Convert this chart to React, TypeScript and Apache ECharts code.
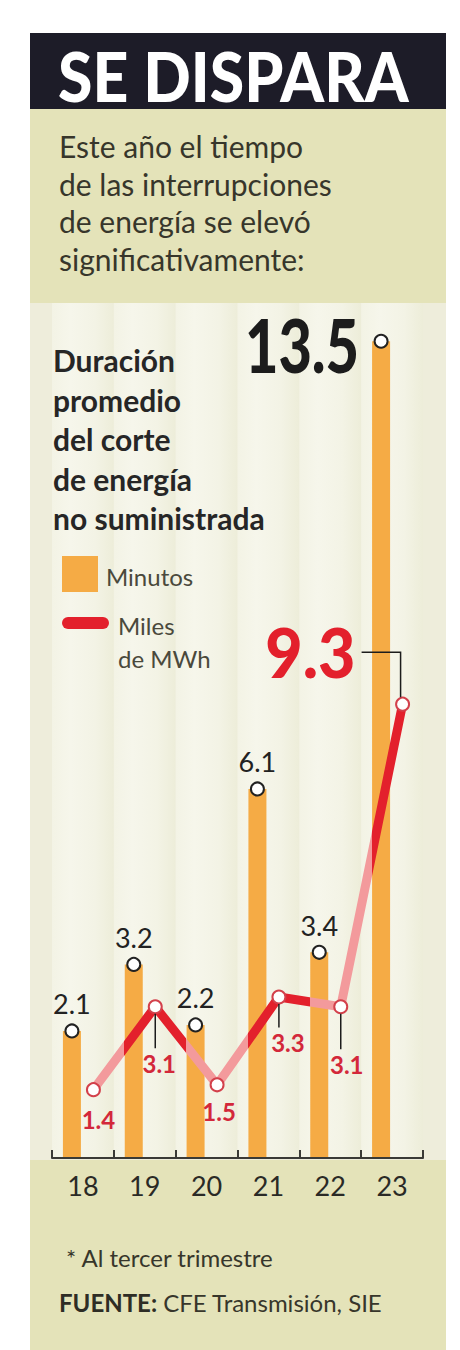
import React, { useEffect, useRef } from "react";
import * as echarts from "echarts";

// ---- data ----
const years = ["18", "19", "20", "21", "22", "23"];
const minutos = [2.1, 3.2, 2.2, 6.1, 3.4, 13.5];
const milesMWh = [1.4, 3.1, 1.5, 3.3, 3.1, 9.3];

const title = "SE DISPARA";
const subtitleLines = [
  "Este año el tiempo",
  "de las interrupciones",
  "de energía se elevó",
  "significativamente:",
];
const chartTitleLines = [
  "Duración",
  "promedio",
  "del corte",
  "de energía",
  "no suministrada",
];
const legendBar = "Minutos";
const legendLine = ["Miles", "de MWh"];
const footnote = "* Al tercer trimestre";
const sourceLabel = "FUENTE:";
const sourceText = " CFE Transmisión, SIE";

// ---- layout / style (not data) ----
const W = 460;
const H = 1350;
const AXIS_Y = 1158;
const AX_L = 52;
const AX_R = 37;
const BAR_SHIFT = 11;
const LINE_SHIFT = 10.5;
const BAR_MAX = 14;
const BAR_PX = 60.5;
const LINE_MAX = 16;
const LINE_PX = 48.8;
const lineLabelDist = [10, 37, 7, 26, 38, 0];
const lineLabelDx = [5, 4, 2, 9, 6, 0];
const lineLeader = [false, true, false, true, true, false];

const ORANGE = "#f5ab45";
const RED = "#e3202c";
const PINK = "#f39a9c";
const BEIGE = "#e4e3b9";
const FONT = "Lato, 'Open Sans', sans-serif";

export default function App() {
  const ref = useRef<HTMLDivElement>(null);

  useEffect(() => {
    document.body.style.margin = "0";
    if (!ref.current) return;
    const chart = echarts.init(ref.current, undefined, { renderer: "svg" });

    const bandW = (W - AX_L - AX_R) / years.length;
    const last = years.length - 1;

    const bg: any[] = [];
    bg.push({ type: "rect", z: -20, shape: { x: 30, y: 33, width: 416, height: 76 }, style: { fill: "#1d1c28" } });
    bg.push({ type: "rect", z: -20, shape: { x: 30, y: 109, width: 416, height: 194 }, style: { fill: BEIGE } });
    bg.push({ type: "rect", z: -20, shape: { x: 30, y: 303, width: 416, height: AXIS_Y - 303 + 2 }, style: { fill: "#eeeddb" } });
    years.forEach((_, i) => {
      bg.push({
        type: "rect",
        z: -19,
        shape: { x: AX_L + i * bandW, y: 303, width: bandW, height: AXIS_Y - 303 },
        style: {
          fill: new echarts.graphic.LinearGradient(0, 0, 1, 0, [
            { offset: 0, color: "#f3f3e5" },
            { offset: 0.3, color: "#f6f6eb" },
            { offset: 0.7, color: "#f3f3e5" },
            { offset: 1, color: "#ededd9" },
          ]),
        },
      });
    });
    bg.push({ type: "rect", z: -20, shape: { x: 30, y: AXIS_Y + 2, width: 416, height: H - AXIS_Y - 2 }, style: { fill: BEIGE } });

    const texts: any[] = [];
    texts.push({
      type: "text", z: 50, x: 58, y: 76, scaleX: 0.92,
      style: { text: title, fill: "#ffffff", font: `900 68px ${FONT}`, verticalAlign: "middle" },
    });
    subtitleLines.forEach((t, i) => {
      texts.push({
        type: "text", z: 50, x: 59, y: 146 + i * 37.5,
        style: { text: t, fill: "#37362b", font: `400 30px ${FONT}`, verticalAlign: "middle" },
      });
    });
    chartTitleLines.forEach((t, i) => {
      texts.push({
        type: "text", z: 50, x: 53, y: 360 + i * 39.5,
        style: { text: t, fill: "#262626", font: `700 30px ${FONT}`, verticalAlign: "middle" },
      });
    });
    texts.push({ type: "rect", z: 50, shape: { x: 62, y: 556, width: 36, height: 36 }, style: { fill: ORANGE } });
    texts.push({
      type: "text", z: 50, x: 106, y: 576,
      style: { text: legendBar, fill: "#4a493c", font: `400 24px ${FONT}`, verticalAlign: "middle" },
    });
    texts.push({
      type: "line", z: 50, shape: { x1: 68, y1: 623, x2: 103, y2: 623 },
      style: { stroke: RED, lineWidth: 12, lineCap: "round" },
    });
    legendLine.forEach((t, i) => {
      texts.push({
        type: "text", z: 50, x: 118, y: 625 + i * 33,
        style: { text: t, fill: "#4a493c", font: `400 24px ${FONT}`, verticalAlign: "middle" },
      });
    });
    texts.push({
      type: "text", z: 50, x: 66, y: 1257,
      style: { text: footnote, fill: "#37362b", font: `400 24px ${FONT}`, verticalAlign: "middle" },
    });
    texts.push({
      type: "text", z: 50, x: 59, y: 1302,
      style: {
        text: `{b|${sourceLabel}}{n|${sourceText}}`,
        verticalAlign: "middle",
        rich: {
          b: { fill: "#2e2d25", font: `700 24px ${FONT}` },
          n: { fill: "#37362b", font: `400 24px ${FONT}` },
        },
      },
    });

    const gridB = {
      left: AX_L - BAR_SHIFT,
      right: AX_R + BAR_SHIFT,
      top: AXIS_Y - BAR_MAX * BAR_PX,
      bottom: H - AXIS_Y,
    };
    const gridC = {
      left: AX_L + LINE_SHIFT,
      right: AX_R - LINE_SHIFT,
      top: AXIS_Y - LINE_MAX * LINE_PX,
      bottom: H - AXIS_Y,
    };

    const lineGradient = new echarts.graphic.LinearGradient(0, 0, 1, 0, [
      { offset: 0, color: PINK },
      { offset: 0.1, color: PINK },
      { offset: 0.1, color: RED },
      { offset: 0.3, color: RED },
      { offset: 0.3, color: PINK },
      { offset: 0.5, color: PINK },
      { offset: 0.5, color: RED },
      { offset: 0.7, color: RED },
      { offset: 0.7, color: PINK },
      { offset: 0.9, color: PINK },
      { offset: 0.9, color: RED },
      { offset: 1, color: RED },
    ]);

    const option: any = {
      animation: false,
      backgroundColor: "#ffffff",
      graphic: { elements: [...bg, ...texts] },
      grid: [
        { left: AX_L, right: AX_R, top: 303, bottom: H - AXIS_Y },
        gridB,
        gridC,
      ],
      xAxis: [
        {
          gridIndex: 0,
          type: "category",
          data: years,
          boundaryGap: true,
          axisLine: { lineStyle: { color: "#3a3a36", width: 2 } },
          axisTick: { show: true, inside: true, length: 8, lineStyle: { color: "#3a3a36", width: 2 } },
          axisLabel: { color: "#2a2a26", fontSize: 27, fontFamily: FONT, margin: 14 },
          z: 10,
        },
        { gridIndex: 1, type: "category", data: years, show: false },
        { gridIndex: 2, type: "category", data: years, show: false },
      ],
      yAxis: [
        { gridIndex: 0, type: "value", min: 0, max: 1, show: false },
        { gridIndex: 1, type: "value", min: 0, max: BAR_MAX, show: false },
        { gridIndex: 2, type: "value", min: 0, max: LINE_MAX, show: false },
      ],
      series: [
        {
          type: "bar",
          xAxisIndex: 1,
          yAxisIndex: 1,
          data: minutos,
          barWidth: 18,
          itemStyle: { color: ORANGE },
          z: 2,
        },
        {
          type: "line",
          xAxisIndex: 2,
          yAxisIndex: 2,
          z: 3,
          data: milesMWh.map((v, i) => ({
            value: v,
            label: {
              show: i !== last,
              distance: lineLabelDist[i],
              offset: [lineLabelDx[i], 0],
            },
          })),
          lineStyle: { color: lineGradient, width: 9, cap: "round", join: "round" },
          symbol: "circle",
          symbolSize: 13,
          itemStyle: { color: "#ffffff", borderColor: "#d3404b", borderWidth: 2 },
          label: {
            position: "bottom",
            color: "#d3283a",
            fontSize: 24,
            fontWeight: 700,
            fontFamily: FONT,
          },
        },
        {
          type: "scatter",
          xAxisIndex: 1,
          yAxisIndex: 1,
          z: 5,
          data: minutos.map((v, i) => ({ value: v, label: { show: i !== last } })),
          symbol: "circle",
          symbolSize: 13,
          itemStyle: { color: "#ffffff", borderColor: "#222222", borderWidth: 2, opacity: 1 },
          label: {
            position: "top",
            distance: 6,
            color: "#222222",
            fontSize: 27,
            fontFamily: FONT,
          },
        },
        {
          type: "custom",
          xAxisIndex: 1,
          yAxisIndex: 1,
          z: 6,
          data: minutos.map((v, i) => [i, v]),
          renderItem: (params: any, api: any) => {
            if (params.dataIndex !== last) return null;
            const p = api.coord([api.value(0), api.value(1)]);
            return {
              type: "text",
              x: p[0] - 22,
              y: p[1] + 3,
              scaleX: 0.78,
              style: {
                text: String(api.value(1)),
                fill: "#1c1c1c",
                font: `900 74px ${FONT}`,
                align: "right",
                verticalAlign: "middle",
              },
            };
          },
        },
        {
          type: "custom",
          xAxisIndex: 2,
          yAxisIndex: 2,
          z: 6,
          data: milesMWh.map((v, i) => [i, v]),
          renderItem: (params: any, api: any) => {
            const i = params.dataIndex;
            const p = api.coord([api.value(0), api.value(1)]);
            if (i === last) {
              return {
                type: "group",
                children: [
                  {
                    type: "polyline",
                    shape: { points: [[p[0] - 2, p[1] - 7], [p[0] - 2, p[1] - 52], [p[0] - 41, p[1] - 52]] },
                    style: { stroke: "#1c1c1c", lineWidth: 1.5, fill: null },
                  },
                  {
                    type: "text",
                    x: p[0] - 47,
                    y: p[1] - 52,
                    scaleX: 0.95,
                    style: {
                      text: String(api.value(1)),
                      fill: RED,
                      font: `900 68px ${FONT}`,
                      align: "right",
                      verticalAlign: "middle",
                    },
                  },
                ],
              };
            }
            if (!lineLeader[i]) return null;
            return {
              type: "line",
              shape: { x1: p[0], y1: p[1] + 7, x2: p[0], y2: p[1] + 6.5 + lineLabelDist[i] - 2 },
              style: { stroke: "#1c1c1c", lineWidth: 1.5 },
            };
          },
        },
      ],
    };

    chart.setOption(option);
    return () => chart.dispose();
  }, []);

  return <div ref={ref} style={{ width: W, height: H }} />;
}
